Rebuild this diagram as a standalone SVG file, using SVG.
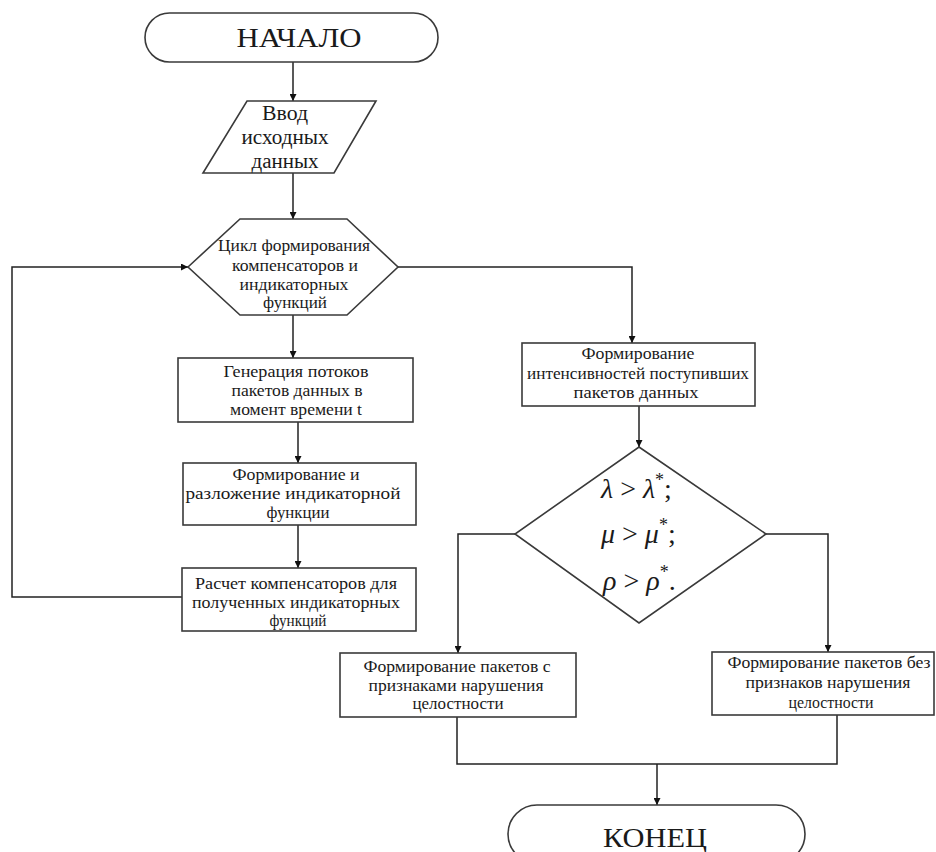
<svg xmlns="http://www.w3.org/2000/svg" width="936" height="852" viewBox="0 0 936 852">
<defs>
<marker id="ah" viewBox="0 0 10 10" refX="10" refY="5" markerWidth="9" markerHeight="7" markerUnits="userSpaceOnUse" orient="auto">
<path d="M0,0 L10,5 L0,10 z" fill="#111"/>
</marker>
</defs>
<style>
.sh{fill:#fff;stroke:#3a3a3a;stroke-width:1.6}
.t{font-family:"Liberation Serif","Times New Roman",serif;fill:#1a1a1a;text-anchor:middle}
.s{font-size:16.5px}
.m{font-size:20px}
.big{font-size:28px}
.math{font-family:"Liberation Serif","Times New Roman",serif;fill:#1a1a1a;font-size:28px}
.c{fill:none;stroke:#222;stroke-width:1.5}
</style>
<rect width="936" height="852" fill="#fff"/>
<g id="connectors">
<path class="c" d="M293,62 V101" marker-end="url(#ah)"/>
<path class="c" d="M293,173 V219" marker-end="url(#ah)"/>
<path class="c" d="M293,315 V358" marker-end="url(#ah)"/>
<path class="c" d="M298,422 V463" marker-end="url(#ah)"/>
<path class="c" d="M298,525 V568" marker-end="url(#ah)"/>
<path class="c" d="M182,597 H12 V267 H188" marker-end="url(#ah)"/>
<path class="c" d="M398,267 H632 V343" marker-end="url(#ah)"/>
<path class="c" d="M639,406 V447" marker-end="url(#ah)"/>
<path class="c" d="M515,534 H458 V653" marker-end="url(#ah)"/>
<path class="c" d="M766,534 H828 V652" marker-end="url(#ah)"/>
<path class="c" d="M457,717 V764 H837 V715"/>
<path class="c" d="M657,764 V805" marker-end="url(#ah)"/>
</g>
<g id="start">
<rect class="sh" x="145" y="13" width="293" height="49" rx="24.5"/>
<text class="t big" x="299" y="47" textLength="125" lengthAdjust="spacingAndGlyphs">НАЧАЛО</text>
</g>
<g id="input">
<polygon class="sh" points="247,101 376,101 334,173 203,173"/>
<text class="t m" x="285" y="120" textLength="46" lengthAdjust="spacingAndGlyphs">Ввод</text>
<text class="t m" x="285" y="144" textLength="87" lengthAdjust="spacingAndGlyphs">исходных</text>
<text class="t m" x="285" y="168" textLength="67" lengthAdjust="spacingAndGlyphs">данных</text>
</g>
<g id="loop">
<polygon class="sh" points="188,267 240,219 347,219 398,267 347,315 240,315"/>
<text class="t s" x="294" y="251" textLength="152" lengthAdjust="spacingAndGlyphs">Цикл формирования</text>
<text class="t s" x="295" y="271" textLength="126" lengthAdjust="spacingAndGlyphs">компенсаторов и</text>
<text class="t s" x="294" y="290" textLength="109" lengthAdjust="spacingAndGlyphs">индикаторных</text>
<text class="t s" x="295" y="308" textLength="64" lengthAdjust="spacingAndGlyphs">функций</text>
</g>
<g id="gen">
<rect class="sh" x="178" y="358" width="235" height="64"/>
<text class="t s" x="296" y="377" textLength="145" lengthAdjust="spacingAndGlyphs">Генерация потоков</text>
<text class="t s" x="297" y="396" textLength="131" lengthAdjust="spacingAndGlyphs">пакетов данных в</text>
<text class="t s" x="296" y="415" textLength="132" lengthAdjust="spacingAndGlyphs">момент времени t</text>
</g>
<g id="decomp">
<rect class="sh" x="183" y="463" width="233" height="62"/>
<text class="t s" x="296" y="480" textLength="127" lengthAdjust="spacingAndGlyphs">Формирование и</text>
<text class="t s" x="293" y="499" textLength="215" lengthAdjust="spacingAndGlyphs">разложение индикаторной</text>
<text class="t s" x="298" y="518" textLength="63" lengthAdjust="spacingAndGlyphs">функции</text>
</g>
<g id="calc">
<rect class="sh" x="182" y="568" width="234" height="63"/>
<text class="t s" x="296" y="589" textLength="202" lengthAdjust="spacingAndGlyphs">Расчет компенсаторов для</text>
<text class="t s" x="296" y="608" textLength="208" lengthAdjust="spacingAndGlyphs">полученных индикаторных</text>
<text class="t s" x="298" y="626" textLength="57" lengthAdjust="spacingAndGlyphs">функций</text>
</g>
<g id="intens">
<rect class="sh" x="522" y="343" width="233" height="63"/>
<text class="t s" x="638" y="359" textLength="113" lengthAdjust="spacingAndGlyphs">Формирование</text>
<text class="t s" x="638" y="379" textLength="222" lengthAdjust="spacingAndGlyphs">интенсивностей поступивших</text>
<text class="t s" x="636" y="398" textLength="125" lengthAdjust="spacingAndGlyphs">пакетов данных</text>
</g>
<g id="cond">
<polygon class="sh" points="639,447 766,534 639,623 515,534"/>
<text class="math" x="601" y="498"><tspan font-style="italic">λ</tspan> &gt; <tspan font-style="italic">λ</tspan><tspan font-size="18" dy="-12">*</tspan><tspan dy="12">;</tspan></text>
<text class="math" x="601" y="543"><tspan font-style="italic">μ</tspan> &gt; <tspan font-style="italic">μ</tspan><tspan font-size="18" dy="-12">*</tspan><tspan dy="12">;</tspan></text>
<text class="math" x="603" y="590"><tspan font-style="italic">ρ</tspan> &gt; <tspan font-style="italic">ρ</tspan><tspan font-size="18" dy="-12">*</tspan><tspan dy="12">.</tspan></text>
</g>
<g id="bad">
<rect class="sh" x="340" y="653" width="236" height="64"/>
<text class="t s" x="457" y="672" textLength="187" lengthAdjust="spacingAndGlyphs">Формирование пакетов с</text>
<text class="t s" x="456" y="691" textLength="175" lengthAdjust="spacingAndGlyphs">признаками нарушения</text>
<text class="t s" x="458" y="709" textLength="91" lengthAdjust="spacingAndGlyphs">целостности</text>
</g>
<g id="good">
<rect class="sh" x="712" y="652" width="222" height="63"/>
<text class="t s" x="829" y="668" textLength="203" lengthAdjust="spacingAndGlyphs">Формирование пакетов без</text>
<text class="t s" x="828" y="688" textLength="165" lengthAdjust="spacingAndGlyphs">признаков нарушения</text>
<text class="t s" x="831" y="708" textLength="85" lengthAdjust="spacingAndGlyphs">целостности</text>
</g>
<g id="end">
<rect class="sh" x="508" y="805" width="297" height="58" rx="29"/>
<text class="t big" x="655" y="847" textLength="104" lengthAdjust="spacingAndGlyphs">КОНЕЦ</text>
</g>
</svg>
